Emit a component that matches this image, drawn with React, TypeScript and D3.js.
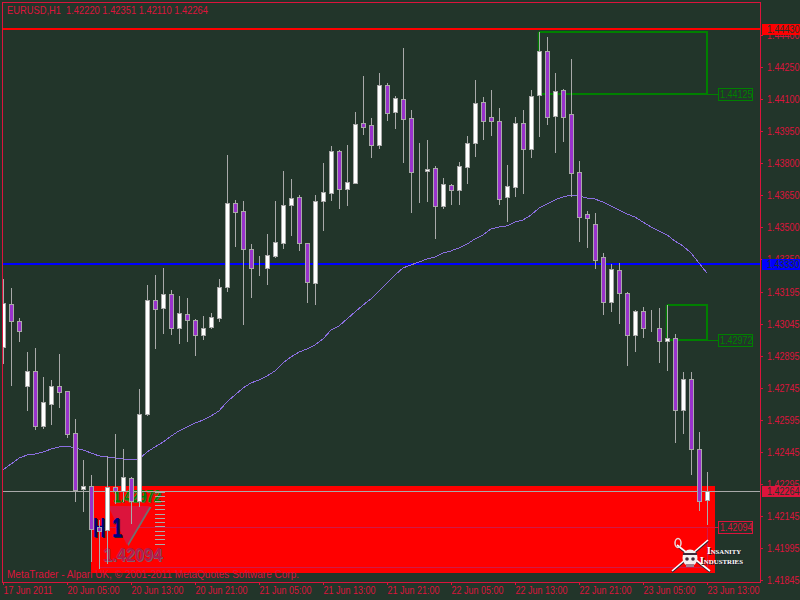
import React, { useEffect, useRef } from "react";
import * as d3 from "d3";

const opens = [1.42938,1.43139,1.43059,1.42755,1.42825,1.42567,1.4267,1.42755,1.42731,1.42534,
  1.42272,1.42286,1.42094,1.4208,1.42281,1.42263,1.42323,1.42216,1.42623,1.43158,
  1.4312,1.43186,1.43027,1.43092,1.43064,1.42994,1.43031,1.43073,1.43219,1.43613,
  1.43575,1.43397,1.43313,1.43308,1.43364,1.43425,1.43603,1.43641,1.43425,1.43238,
  1.43622,1.43659,1.43856,1.43678,1.43706,1.43988,1.43978,1.43884,1.44166,1.44039,
  1.441,1.44011,1.43763,1.43763,1.43777,1.43598,1.43697,1.43673,1.43781,1.43894,
  1.44086,1.44016,1.43997,1.43641,1.43688,1.43988,1.43866,1.44119,1.44325,1.4402,
  1.44142,1.4403,1.43758,1.43561,1.43514,1.43359,1.43148,1.43298,1.43191,1.42994,
  1.43106,1.43027,1.43027,1.42966,1.4298,1.42642,1.42788,1.42459,1.4222];
const highs = [1.43256,1.43214,1.43073,1.42914,1.42933,1.42797,1.42783,1.42905,1.42731,1.426,
  1.42408,1.42338,1.42127,1.42427,1.4253,1.42459,1.42328,1.42741,1.43228,1.43275,
  1.43308,1.43205,1.43177,1.43167,1.43069,1.43083,1.43097,1.43256,1.43838,1.43627,
  1.43622,1.4342,1.43364,1.43467,1.43622,1.43763,1.43725,1.4365,1.43425,1.4365,
  1.438,1.4388,1.43861,1.43884,1.44039,1.44208,1.44011,1.44222,1.44175,1.44114,
  1.44339,1.44048,1.43894,1.43908,1.43786,1.4373,1.43702,1.43805,1.43927,1.44189,
  1.44109,1.44142,1.44058,1.43791,1.44016,1.44048,1.44142,1.44414,1.44391,1.44222,
  1.44147,1.44288,1.43809,1.43575,1.43566,1.43378,1.43327,1.43331,1.43195,1.43111,
  1.43125,1.43111,1.4312,1.43134,1.42998,1.4282,1.4282,1.42539,1.42351];
const lows = [1.42863,1.42759,1.42966,1.42642,1.42553,1.42558,1.42577,1.42656,1.42516,1.42216,
  1.42169,1.41934,1.41902,1.41925,1.42206,1.42216,1.42113,1.42192,1.42619,1.42933,
  1.43003,1.42998,1.42956,1.42966,1.429,1.42975,1.43027,1.43059,1.432,1.43411,
  1.43045,1.43172,1.43275,1.43233,1.43359,1.43402,1.43463,1.43392,1.43148,1.43139,
  1.43486,1.43627,1.43589,1.43603,1.43706,1.43936,1.43828,1.4387,1.44002,1.43964,
  1.43805,1.4357,1.43617,1.43622,1.43448,1.43589,1.43608,1.43608,1.43706,1.43833,
  1.43912,1.43931,1.43608,1.43528,1.43645,1.43659,1.43828,1.43927,1.43983,1.43852,
  1.43903,1.43645,1.43434,1.43406,1.43308,1.43092,1.43106,1.4305,1.42853,1.42919,
  1.42984,1.43013,1.42867,1.4283,1.42492,1.42534,1.42342,1.42173,1.4211];
const closes = [1.43144,1.43059,1.43013,1.42825,1.42567,1.4268,1.42755,1.42727,1.4253,1.42267,
  1.42286,1.42084,1.42075,1.42281,1.42263,1.42328,1.42216,1.42623,1.43158,1.43116,
  1.43186,1.43027,1.43097,1.43064,1.42994,1.43027,1.43078,1.43219,1.43613,1.4357,
  1.43397,1.43308,1.43313,1.43369,1.4343,1.43603,1.43636,1.43425,1.43242,1.43622,
  1.43664,1.43856,1.43678,1.43711,1.43983,1.43969,1.43884,1.44166,1.44034,1.44105,
  1.44006,1.43758,1.43763,1.43772,1.43598,1.43702,1.43673,1.43786,1.43894,1.44081,
  1.43997,1.43997,1.43631,1.43692,1.43988,1.43866,1.44114,1.44325,1.44016,1.44137,
  1.44016,1.43753,1.43547,1.43542,1.43345,1.43148,1.43303,1.43191,1.42994,1.43106,
  1.43027,1.43027,1.42966,1.4298,1.42642,1.42788,1.42459,1.42216,1.42264];
const maValues = [1.42361,1.42389,1.42417,1.42431,1.42436,1.42445,1.42459,1.42469,1.42473,1.42464,
  1.42455,1.42441,1.42427,1.42422,1.42417,1.42413,1.42408,1.42413,1.42445,1.42469,
  1.42492,1.4252,1.42544,1.42563,1.42581,1.42595,1.42614,1.42638,1.4268,1.42713,
  1.42745,1.42769,1.42783,1.42802,1.42825,1.42863,1.42891,1.42914,1.42928,1.42947,
  1.42975,1.43017,1.43036,1.43069,1.43102,1.43134,1.43163,1.432,1.43238,1.43275,
  1.43308,1.43322,1.43336,1.4335,1.43359,1.43378,1.43388,1.43402,1.4342,1.43444,
  1.43463,1.43491,1.435,1.43505,1.43523,1.43533,1.43556,1.43589,1.43608,1.43627,
  1.43641,1.4365,1.43645,1.43636,1.43631,1.43617,1.43598,1.4358,1.43561,1.43547,
  1.43523,1.435,1.43481,1.43463,1.43434,1.43411,1.43378,1.43331,1.43284];

const priceTicks = [1.444,1.4425,1.441,1.4395,1.438,1.4365,1.435,1.4335,1.43195,1.43045,1.42895,1.42745,1.42595,1.42445,1.42295,1.42145,1.41995,1.41845];
const timeIdx = [0,8,16,24,32,40,48,56,64,72,80,88];
const timeLabels = ["17 Jun 2011","20 Jun 05:00","20 Jun 13:00","20 Jun 21:00","21 Jun 05:00","21 Jun 13:00","21 Jun 21:00","22 Jun 05:00","22 Jun 13:00","22 Jun 21:00","23 Jun 05:00","23 Jun 13:00"];

const resistanceLevel = 1.4443;
const supportLevel = 1.4333;
const bidLevel = 1.42264;
const boxes = [
  { from: 67, to: 88, top: 1.44414, bottom: 1.44125 },
  { from: 83, to: 88, top: 1.43134, bottom: 1.42972 },
];
const redZone = { from: 11, to: 89, top: 1.42286, bottom: 1.41878 };
const targetBox = { from: 12, to: 88, top: 1.42094, bottom: 1.41906 };

const BG = "#22352a";
const CRIMSON = "#dc143c";
const GRAY = "#a9a9a9";
const GREEN = "#008000";
const FONT = "'Liberation Sans', sans-serif";
const SQUEEZE = 0.82; // Tahoma-like digit width from Liberation Sans

export default function App() {
  const ref = useRef<SVGSVGElement>(null);

  useEffect(() => {
    const svg = d3.select(ref.current);
    svg.selectAll("*").remove();

    const x = d3.scaleLinear().domain([0, 88]).range([3, 707]);
    const y = d3.scaleLinear().domain([1.444, 1.41845]).range([35, 580.07]);
    const py = (p: number) => Math.round(y(p));

    svg.append("rect").attr("width", 800).attr("height", 600).attr("fill", BG);

    svg.append("clipPath").attr("id", "plot")
      .append("rect").attr("x", 3).attr("y", 3).attr("width", 757).attr("height", 579);
    const plot = svg.append("g").attr("clip-path", "url(#plot)");

    // red zone + indicator objects under the candles
    plot.append("rect")
      .attr("x", x(redZone.from)).attr("y", py(redZone.top))
      .attr("width", x(redZone.to) - x(redZone.from))
      .attr("height", py(redZone.bottom) - py(redZone.top))
      .attr("fill", "#ff0000");
    plot.append("rect")
      .attr("x", x(targetBox.from) + 0.5).attr("y", py(targetBox.top) + 0.5)
      .attr("width", x(targetBox.to) - x(targetBox.from))
      .attr("height", py(targetBox.bottom) - py(targetBox.top))
      .attr("fill", "none").attr("stroke", "#d01a48");

    const tri = d3.line()([[108, 506], [150, 506], [127, 545]]) + "Z";
    plot.append("path").attr("d", tri).attr("transform", "translate(1.5,1)").attr("fill", "#707070");
    plot.append("path").attr("d", tri).attr("fill", CRIMSON);

    const big = (txt: string, tx: number, ty: number, size: number, fill: string, shadow: string, w: number) => {
      [[1, 1, shadow], [0, 0, fill]].forEach(([dx, dy, c]) => {
        plot.append("text").text(txt)
          .attr("x", tx + (dx as number)).attr("y", ty + (dy as number))
          .attr("font-family", FONT).attr("font-size", size).attr("font-weight", "bold")
          .attr("textLength", w).attr("lengthAdjust", "spacingAndGlyphs")
          .attr("fill", c as string);
      });
    };
    big("H", 93, 537, 28, "#000080", "#202030", 12);
    big("1", 112, 537, 28, "#000080", "#202030", 10);
    big("1.42972", 113, 502, 17, "#008000", "#606a30", 48);
    big("1.42094", 103, 561, 19, "#b01c4c", "#8a5a68", 59);

    // ruler dashes next to the triangle
    plot.append("g").selectAll("line")
      .data(d3.range(492, 545, 4.3))
      .join("line")
      .attr("x1", 155).attr("x2", 165)
      .attr("y1", d => Math.round(d) + 0.5).attr("y2", d => Math.round(d) + 0.5)
      .attr("stroke", GRAY);

    // horizontal levels
    [[resistanceLevel, "#ff0000"], [supportLevel, "#0000ff"]].forEach(([lvl, c]) => {
      plot.append("line")
        .attr("x1", 3).attr("x2", 760)
        .attr("y1", Math.ceil(y(lvl as number))).attr("y2", Math.ceil(y(lvl as number)))
        .attr("stroke", c as string).attr("stroke-width", 2);
    });
    plot.append("line")
      .attr("x1", 3).attr("x2", 760)
      .attr("y1", Math.ceil(y(bidLevel)) + 0.5).attr("y2", Math.ceil(y(bidLevel)) + 0.5)
      .attr("stroke", GRAY);

    // green boxes
    boxes.forEach(b => {
      const x0 = x(b.from), x1 = x(b.to), t = py(b.top), bt = py(b.bottom);
      plot.append("line").attr("x1", x0 - 0.5).attr("x2", x0 - 0.5).attr("y1", t).attr("y2", bt)
        .attr("stroke", GREEN).attr("stroke-width", 1.5);
      plot.append("path").attr("d", `M${x0},${t}H${x1}V${bt}H${x0}`)
        .attr("fill", "none").attr("stroke", GREEN).attr("stroke-width", 2);
    });

    // moving average
    const ma = d3.line<number>().x((_, i) => x(i)).y(d => y(d));
    plot.append("path").attr("d", ma(maValues))
      .attr("fill", "none").attr("stroke", "#8b6fe0")
      .attr("shape-rendering", "crispEdges");

    // candles
    const candles = plot.append("g").selectAll("g").data(opens).join("g");
    candles.append("line")
      .attr("x1", (_, i) => x(i) + 0.5).attr("x2", (_, i) => x(i) + 0.5)
      .attr("y1", (_, i) => py(highs[i])).attr("y2", (_, i) => py(lows[i]) + 1)
      .attr("stroke", GRAY);
    candles.append("rect")
      .attr("x", (_, i) => x(i) - 1.5).attr("width", 4)
      .attr("y", (_, i) => Math.min(py(opens[i]), py(closes[i])) + 0.5)
      .attr("height", (_, i) => Math.abs(py(opens[i]) - py(closes[i])))
      .attr("fill", (_, i) => closes[i] > opens[i] ? "#ffffff" : "#9932cc")
      .attr("stroke", GRAY);

    // frame
    svg.append("rect").attr("x", 2.5).attr("y", 2.5).attr("width", 758).attr("height", 580)
      .attr("fill", "none").attr("stroke", CRIMSON);

    // price axis
    const yAxis = svg.append("g").attr("transform", "translate(760,0)")
      .call(d3.axisRight(y).tickValues(priceTicks).tickFormat(d3.format(".5f") as any).tickSize(3).tickPadding(3));
    yAxis.select(".domain").remove();
    yAxis.selectAll("line").attr("stroke", CRIMSON);
    yAxis.selectAll("text")
      .attr("font-family", FONT).attr("font-size", 11).attr("fill", CRIMSON)
      .attr("x", 0).attr("transform", `translate(7,0) scale(${SQUEEZE},1)`);

    // time axis
    const xAxis = svg.append("g").attr("transform", "translate(0,582)")
      .call(d3.axisBottom(x).tickValues(timeIdx).tickFormat((_, i) => timeLabels[i]).tickSize(3).tickPadding(1));
    xAxis.select(".domain").remove();
    xAxis.selectAll("line").attr("stroke", CRIMSON);
    xAxis.selectAll("text")
      .attr("font-family", FONT).attr("font-size", 11).attr("fill", CRIMSON)
      .attr("text-anchor", "start")
      .attr("textLength", (_, i) => i === 0 ? 49 : 52).attr("lengthAdjust", "spacingAndGlyphs");

    // squeezed price text used by the tags and level labels
    const priceText = (p: number, tx: number, ty: number, fill: string) => {
      svg.append("text").text(d3.format(".5f")(p))
        .attr("transform", `translate(${tx},${ty}) scale(${SQUEEZE},1)`)
        .attr("font-family", FONT).attr("font-size", 11).attr("fill", fill);
    };

    // price tags on the axis
    const tag = (p: number, fill: string) => {
      const c = Math.ceil(y(p));
      svg.append("rect").attr("x", 762).attr("y", c - 5).attr("width", 38).attr("height", 11).attr("fill", fill);
      priceText(p, 767, c + 4, BG);
    };
    tag(resistanceLevel, "#ff0000");
    tag(supportLevel, "#0000ff");
    tag(bidLevel, CRIMSON);

    // level labels right of the boxes
    const label = (p: number, c: string) => {
      const cy = py(p);
      svg.append("line").attr("x1", 707).attr("x2", 718).attr("y1", cy + 0.5).attr("y2", cy + 0.5).attr("stroke", c);
      svg.append("rect").attr("x", 718.5).attr("y", cy - 5.5).attr("width", 34).attr("height", 12)
        .attr("fill", BG).attr("stroke", c);
      priceText(p, 720, cy + 4, c);
    };
    label(boxes[0].bottom, GREEN);
    label(boxes[1].bottom, GREEN);
    label(targetBox.top, CRIMSON);

    // header + copyright
    svg.append("text").text("EURUSD,H1\u00a0\u00a01.42220 1.42351 1.42110 1.42264")
      .attr("x", 7).attr("y", 14)
      .attr("font-family", FONT).attr("font-size", 11).attr("fill", CRIMSON)
      .attr("textLength", 201).attr("lengthAdjust", "spacingAndGlyphs");
    svg.append("text").text("MetaTrader - Alpari UK, \u00a9 2001-2011 MetaQuotes Software Corp.")
      .attr("x", 7).attr("y", 578)
      .attr("font-family", FONT).attr("font-size", 11).attr("fill", CRIMSON)
      .attr("textLength", 292).attr("lengthAdjust", "spacingAndGlyphs");

    // pirate logo, bottom right
    const logo = svg.append("g");
    [[672, 571, 708, 540], [677, 545, 710, 571]].forEach(([a, b, c, d]) => {
      logo.append("line").attr("x1", a).attr("y1", b + 1).attr("x2", c).attr("y2", d + 1)
        .attr("stroke", "#302030").attr("stroke-width", 2);
      logo.append("line").attr("x1", a).attr("y1", b).attr("x2", c).attr("y2", d)
        .attr("stroke", "#ffffff").attr("stroke-width", 1.6);
    });
    logo.append("ellipse").attr("cx", 678).attr("cy", 543).attr("rx", 3).attr("ry", 4.5)
      .attr("fill", "none").attr("stroke", "#e8d8d8").attr("stroke-width", 1.5);
    logo.append("ellipse").attr("cx", 690).attr("cy", 558).attr("rx", 7.5).attr("ry", 8.5).attr("fill", "#f4eeee");
    logo.append("rect").attr("x", 683).attr("y", 553).attr("width", 14).attr("height", 2).attr("fill", "#402838");
    [[687, 559], [693, 559]].forEach(([cx, cy]) =>
      logo.append("circle").attr("cx", cx).attr("cy", cy).attr("r", 1.8).attr("fill", "#402838"));
    logo.append("rect").attr("x", 686).attr("y", 564).attr("width", 8).attr("height", 3).attr("fill", "#a08090");
    [["Insanity", 707, 554, 34], ["Industries", 700, 564, 43]].forEach(([t, tx, ty, w]) => {
      [[1, 1, "#202030"], [0, 0, "#ffffff"]].forEach(([dx, dy, c]) => {
        logo.append("text").text(t as string)
          .attr("x", (tx as number) + (dx as number)).attr("y", (ty as number) + (dy as number))
          .attr("font-family", "'Liberation Serif', serif").attr("font-size", 10).attr("font-weight", "bold")
          .style("font-variant", "small-caps")
          .attr("textLength", w as number).attr("lengthAdjust", "spacingAndGlyphs")
          .attr("fill", c as string);
      });
    });
  }, []);

  return <svg ref={ref} width={800} height={600} style={{ position: "fixed", left: 0, top: 0 }} />;
}
